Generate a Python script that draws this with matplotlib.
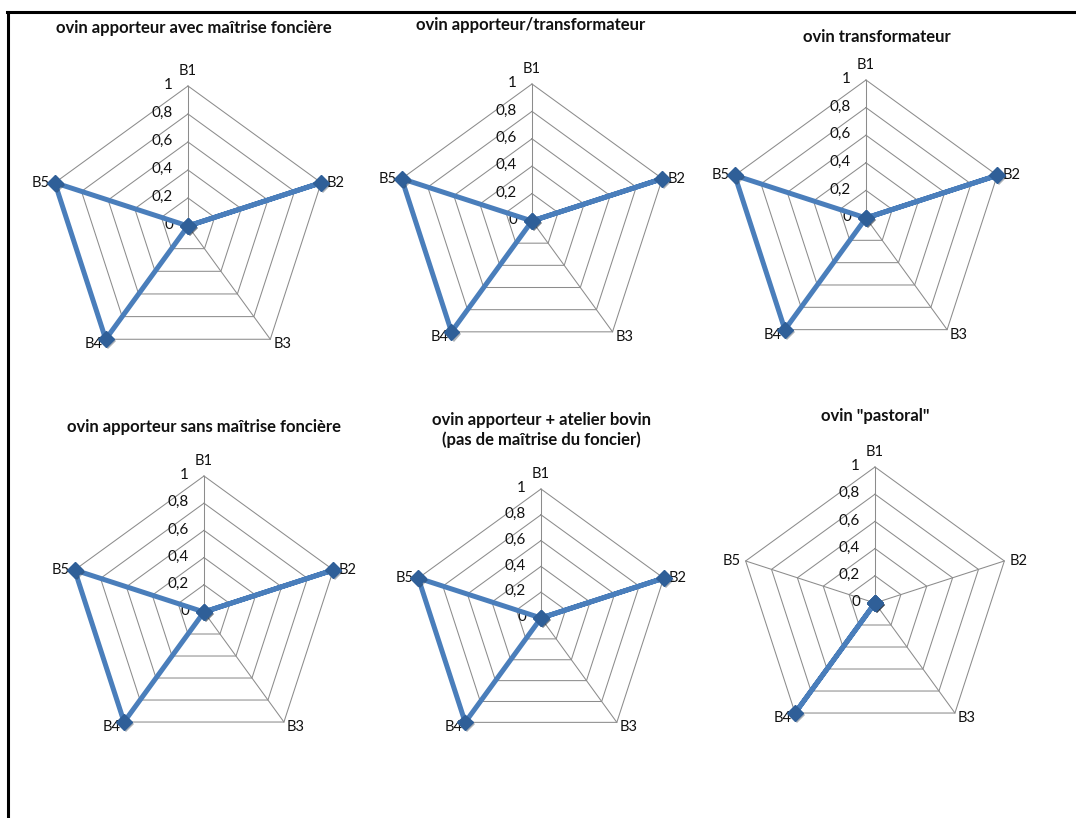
import numpy as np
import matplotlib
matplotlib.use("Agg")
import matplotlib.pyplot as plt
from matplotlib.lines import Line2D
import matplotlib.patheffects as pe

plt.rcParams['font.family'] = ['Lato', 'DejaVu Sans']

# ---- data ----
axis_labels = ["B1", "B2", "B3", "B4", "B5"]
tick_values = [0, 0.2, 0.4, 0.6, 0.8, 1]
tick_labels = ["0", "0,2", "0,4", "0,6", "0,8", "1"]

titles = [
    "ovin apporteur avec maîtrise foncière",
    "ovin apporteur/transformateur",
    "ovin transformateur",
    "ovin apporteur sans maîtrise foncière",
    "ovin apporteur + atelier bovin\n(pas de maîtrise du foncier)",
    "ovin \"pastoral\"",
]
values_apporteur_avec = [0, 1, 0, 1, 1]
values_apporteur_transfo = [0, 1, 0, 1, 1]
values_transformateur = [0, 1, 0, 1, 1]
values_apporteur_sans = [0, 1, 0, 1, 1]
values_apporteur_bovin = [0, 1, 0, 1, 1]
values_pastoral = [0, 0, 0, 1, 0]
series = [values_apporteur_avec, values_apporteur_transfo, values_transformateur,
          values_apporteur_sans, values_apporteur_bovin, values_pastoral]

# ---- layout (pixels): center x, center y, radius, title x, title y ----
W, H = 1076, 818
layout = [
    (188, 226, 140, 194, 28),
    (532, 221, 137, 531, 25),
    (866, 218, 138, 877, 37),
    (204, 612, 136, 204, 427),
    (541, 618, 129, 541, 430),
    (875, 603, 136, 875, 416),
]

fig = plt.figure(figsize=(W / 100, H / 100), dpi=100)
fig.patch.set_facecolor("white")

# frame lines (top and left)
fig.add_artist(Line2D([7 / W, 1], [1 - 12 / H, 1 - 12 / H], transform=fig.transFigure,
                      color="black", lw=2.2))
fig.add_artist(Line2D([8 / W, 8 / W], [1 - 12 / H, 0], transform=fig.transFigure,
                      color="black", lw=2.2))

n = len(axis_labels)
theta = np.arange(n) * 2 * np.pi / n
grid_color = "#8c8c8c"
line_color = "#4a7ebb"
marker_color = "#2f5f98"
text_color = "#111111"

label_offsets = [(0, 15, "center", "center"),
                 (5, 0, "left", "center"),
                 (3, -5, "left", "center"),
                 (-3, -5, "right", "center"),
                 (-5, 0, "right", "center")]

for (cx, cy, r, tx, ty), title, vals in zip(layout, titles, series):
    ax = fig.add_axes([(cx - r) / W, 1 - (cy + r) / H, 2 * r / W, 2 * r / H],
                      projection="polar")
    ax.set_theta_offset(np.pi / 2)
    ax.set_theta_direction(-1)
    ax.set_ylim(0, 1)
    ax.grid(False)
    ax.spines["polar"].set_visible(False)
    ax.set_xticks([])
    ax.set_yticks([])
    ax.patch.set_alpha(0)

    th_closed = np.append(theta, theta[0])
    # ring polygons
    for tv in tick_values[1:]:
        ax.plot(th_closed, [tv] * (n + 1), color=grid_color, lw=0.75, zorder=1,
                clip_on=False)
    # spokes
    for t in theta:
        ax.plot([t, t], [0, 1], color=grid_color, lw=0.75, zorder=1, clip_on=False)

    # radial tick labels
    for tv, tl in zip(tick_values, tick_labels):
        ax.annotate(tl, xy=(0, tv), xytext=(-15, 1), textcoords="offset pixels",
                    ha="right", va="center", fontsize=11, color=text_color)

    # category labels
    for t, lab, (dx, dy, ha, va) in zip(theta, axis_labels, label_offsets):
        ax.annotate(lab, xy=(t, 1), xytext=(dx, dy), textcoords="offset pixels",
                    ha=ha, va=va, fontsize=10.5, color=text_color)

    v_closed = list(vals) + [vals[0]]
    ax.plot(th_closed, v_closed, color=line_color, lw=3.6, zorder=3, clip_on=False,
            solid_joinstyle="miter")
    ax.plot(theta, vals, linestyle="none", marker="D", markersize=8,
            color=marker_color, zorder=4, clip_on=False,
            path_effects=[pe.SimplePatchShadow(offset=(1.5, -1.5), alpha=0.35),
                          pe.Normal()])

    fig.text(tx / W, 1 - ty / H, title, ha="center", va="center", fontsize=12,
             fontweight="bold", linespacing=1.2, color=text_color)

fig.savefig("out.png", dpi=100, facecolor="white")
